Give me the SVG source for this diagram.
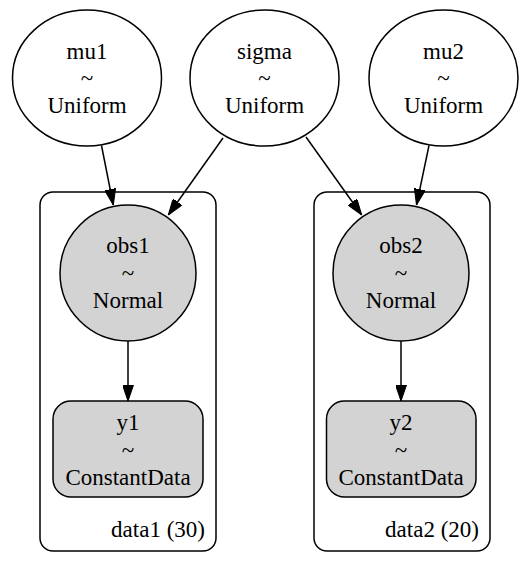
<svg xmlns="http://www.w3.org/2000/svg" width="526" height="568" viewBox="0 0 526 568">
<defs>
<style>
text{font-size:23px;fill:#000;text-anchor:middle}
.plate{fill:none;stroke:#000;stroke-width:1.5}
.free{fill:#fff;stroke:#000;stroke-width:1.5}
.obs{fill:#d3d3d3;stroke:#000;stroke-width:1.5}
.edge{fill:none;stroke:#000;stroke-width:1.5}
.lbl{text-anchor:end}
</style>
<marker id="ah" viewBox="0 0 16 11" refX="16" refY="5.5" markerWidth="16" markerHeight="11" markerUnits="userSpaceOnUse" orient="auto">
<path d="M0,0 L16,5.5 L0,11 Z" fill="#000" stroke="#000" stroke-width="1"/>
</marker>
</defs>
<rect width="526" height="568" fill="#fff"/>
<g font-family="'Liberation Serif', 'Times New Roman', 'DejaVu Serif', serif">
<g id="plate-data1">
<rect class="plate" x="40" y="192" width="176" height="359" rx="13"/>
<text class="lbl" x="205" y="537">data1 (30)</text>
</g>
<g id="plate-data2">
<rect class="plate" x="314" y="192" width="176" height="359" rx="13"/>
<text class="lbl" x="479" y="537">data2 (20)</text>
</g>
<g id="connectors">
<path class="edge" marker-end="url(#ah)" d="M101.5,145.5 L113.3,205"/>
<path class="edge" marker-end="url(#ah)" d="M223,138 L168.3,215"/>
<path class="edge" marker-end="url(#ah)" d="M306,137 L361.7,215"/>
<path class="edge" marker-end="url(#ah)" d="M429,145.5 L416.5,205"/>
<path class="edge" marker-end="url(#ah)" d="M128,341 L128,401"/>
<path class="edge" marker-end="url(#ah)" d="M401,341 L401,401"/>
</g>
<g id="mu1">
<ellipse class="free" cx="87" cy="78" rx="74.5" ry="68"/>
<text x="87" y="59">mu1</text>
<text x="87" y="86">~</text>
<text x="87" y="113">Uniform</text>
</g>
<g id="sigma">
<ellipse class="free" cx="264.5" cy="78" rx="74.5" ry="68"/>
<text x="264.5" y="59">sigma</text>
<text x="264.5" y="86">~</text>
<text x="264.5" y="113">Uniform</text>
</g>
<g id="mu2">
<ellipse class="free" cx="443.5" cy="78" rx="74.5" ry="68"/>
<text x="443.5" y="59">mu2</text>
<text x="443.5" y="86">~</text>
<text x="443.5" y="113">Uniform</text>
</g>
<g id="obs1">
<ellipse class="obs" cx="128" cy="273" rx="68" ry="68"/>
<text x="128" y="253">obs1</text>
<text x="128" y="280.5">~</text>
<text x="128" y="308">Normal</text>
</g>
<g id="obs2">
<ellipse class="obs" cx="401" cy="273" rx="68" ry="68"/>
<text x="401" y="253">obs2</text>
<text x="401" y="280.5">~</text>
<text x="401" y="308">Normal</text>
</g>
<g id="y1">
<rect class="obs" x="53" y="401" width="150" height="96" rx="18"/>
<text x="128" y="430">y1</text>
<text x="128" y="457.5">~</text>
<text x="128" y="485">ConstantData</text>
</g>
<g id="y2">
<rect class="obs" x="326.5" y="401" width="149.5" height="96" rx="18"/>
<text x="401" y="430">y2</text>
<text x="401" y="457.5">~</text>
<text x="401" y="485">ConstantData</text>
</g>
</g>
</svg>
